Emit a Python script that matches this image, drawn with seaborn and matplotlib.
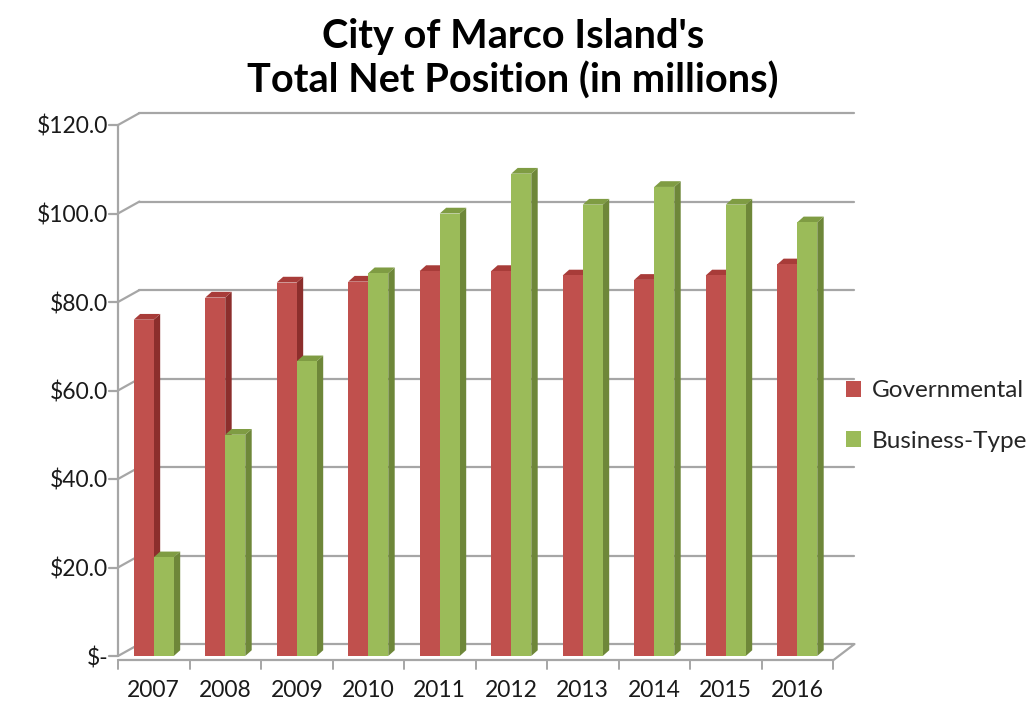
import matplotlib
matplotlib.use("Agg")
import matplotlib.pyplot as plt
from matplotlib.patches import Polygon, Patch
import seaborn as sns
import pandas as pd

years = ["2007", "2008", "2009", "2010", "2011", "2012", "2013", "2014", "2015", "2016"]
governmental = [76.0, 81.0, 84.4, 84.6, 87.0, 87.0, 86.0, 85.0, 86.0, 88.5]
business_type = [22.3, 50.0, 66.6, 86.5, 100.0, 109.0, 102.0, 106.0, 102.0, 98.0]
series_names = ["Governmental", "Business-Type"]
y_ticks = [0, 20, 40, 60, 80, 100, 120]
y_tick_labels = ["$-", "$20.0", "$40.0", "$60.0", "$80.0", "$100.0", "$120.0"]
title = "City of Marco Island's\nTotal Net Position (in millions)"

colors = {"Governmental": "#C0504D", "Business-Type": "#9BBB59"}
side_colors = {"Governmental": "#8C2E2C", "Business-Type": "#6E8739"}
top_colors = {"Governmental": "#A83C39", "Business-Type": "#7F9C43"}

df = pd.DataFrame({
    "Year": years * 2,
    "Series": [series_names[0]] * len(years) + [series_names[1]] * len(years),
    "Value": governmental + business_type,
})

sns.set_theme(style="white")
plt.rcParams["font.family"] = ["Lato", "DejaVu Sans"]

fig = plt.figure(figsize=(10.26, 7.05), dpi=100)
ax = fig.add_axes([118 / 1026, 1 - 656 / 705, 715 / 1026, 531 / 705])

sns.barplot(data=df, x="Year", y="Value", hue="Series", palette=colors,
            width=0.56, dodge=True, ax=ax, legend=False, saturation=1,
            edgecolor="none", zorder=3)

ax.set_xlim(-0.5, 9.5)
ax.set_ylim(0, 120)

# 3D wall offsets (data units)
wdx, wdy = 0.30, 2.7
grid_c = "#A6A6A6"
for v in y_ticks:
    ax.plot([-0.5, -0.5 + wdx], [v, v + wdy], color=grid_c, lw=1.6, clip_on=False, zorder=1)
    ax.plot([-0.5 + wdx, 9.5 + wdx], [v + wdy, v + wdy], color=grid_c, lw=1.6, clip_on=False, zorder=1)
    ax.plot([-0.62, -0.5], [v, v], color=grid_c, lw=1.6, clip_on=False, zorder=1)
# left axis line
ax.plot([-0.5, -0.5], [0, 120], color=grid_c, lw=1.6, clip_on=False, zorder=1)
# floor front edge and right slant
ax.plot([-0.5, 9.5], [-1.0, -1.0], color=grid_c, lw=1.6, clip_on=False, zorder=1)
ax.plot([9.5, 9.5 + wdx], [-1.0, wdy], color=grid_c, lw=1.6, clip_on=False, zorder=1)
for i in range(len(years) + 1):
    ax.plot([-0.5 + i, -0.5 + i], [-1.0, -3.0], color=grid_c, lw=1.4, clip_on=False, zorder=1)

# 3D faces for bars
bdx, bdy = 0.09, 1.3
n = len(years)
for k, patch in enumerate(ax.patches[:2 * n]):
    s = series_names[k // n]
    x0 = patch.get_x()
    w = patch.get_width()
    h = patch.get_height()
    side = Polygon([(x0 + w, 0), (x0 + w + bdx, bdy), (x0 + w + bdx, h + bdy), (x0 + w, h)],
                   closed=True, facecolor=side_colors[s], edgecolor="none", zorder=2.9)
    top = Polygon([(x0, h), (x0 + bdx, h + bdy), (x0 + w + bdx, h + bdy), (x0 + w, h)],
                  closed=True, facecolor=top_colors[s], edgecolor="none", zorder=2.9)
    ax.add_patch(side)
    ax.add_patch(top)

for sp in ax.spines.values():
    sp.set_visible(False)
ax.grid(False)
ax.set_xlabel("")
ax.set_ylabel("")
ax.set_yticks(y_ticks)
ax.set_yticklabels(y_tick_labels)
ax.tick_params(axis="y", length=0, pad=7, labelsize=16.5, colors="#1a1a1a")
ax.tick_params(axis="x", length=0, pad=17, labelsize=16.5, colors="#1a1a1a")

fig.text(0.5, 1 - 59 / 705, title, ha="center", va="center", fontsize=28.5,
         fontweight="bold", linespacing=1.2, color="#000000")

handles = [Patch(facecolor=colors[s], edgecolor="none") for s in series_names]
fig.legend(handles, series_names, loc="center left", bbox_to_anchor=(846 / 1026, 1 - 416 / 705),
           frameon=False, fontsize=17.5, handlelength=0.6, handleheight=0.6,
           handletextpad=0.45, labelspacing=1.2, borderpad=0, borderaxespad=0)

fig.savefig("out.png", dpi=100)
